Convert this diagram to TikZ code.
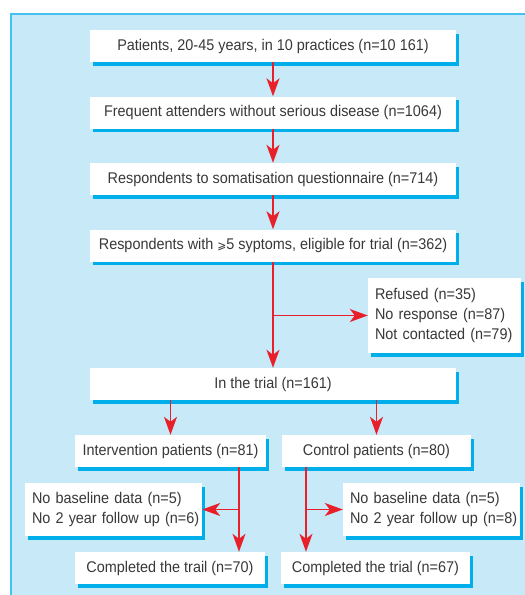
\documentclass[tikz,border=0pt]{standalone}
\usepackage{fontspec}
\setmainfont[FakeStretch=0.93]{Liberation Sans}
\newfontfamily\symfont[FakeStretch=0.93]{DejaVu Sans}
\usetikzlibrary{arrows.meta,shadows}
\definecolor{bgc}{HTML}{C7E9F8}
\definecolor{borderc}{HTML}{45C1F0}
\definecolor{shadowc}{HTML}{00AEEA}
\definecolor{arrc}{HTML}{E8202A}
\definecolor{textc}{HTML}{383838}
\begin{document}
\begin{tikzpicture}[x=1pt,y=-1pt,
  box/.style={fill=white, inner sep=0pt, text=textc,
    font=\fontsize{15.5}{20}\selectfont,
    drop shadow={shadow xshift=3pt, shadow yshift=-3.5pt, fill=shadowc, opacity=1}},
  mainbox/.style={box, minimum width=366pt, minimum height=32pt},
  halfbox/.style={box, minimum width=190pt, minimum height=32pt},
  listbox/.style={box, align=left, inner xsep=7pt, inner ysep=0pt},
  arr/.style={draw=arrc, line width=1.5pt, -{Stealth[length=18pt,width=13pt,inset=5pt]}},
  lin/.style={draw=arrc, line width=1.5pt}]
\useasboundingbox (0,0) rectangle (525,595);
\fill[bgc] (10,13) rectangle (530,600);
\draw[borderc, line width=1.5pt] (10.75,600) -- (10.75,13.75) -- (530,13.75);

\node[mainbox] (b1) at (273,46) {Patients, 20-45 years, in 10 practices (n=10 161)};
\node[mainbox] (b2) at (273,112.5) {Frequent attenders without serious disease (n=1064)};
\node[mainbox] (b3) at (273,179) {Respondents to somatisation questionnaire (n=714)};
\node[mainbox] (b4) at (273,245.5) {Respondents with {\symfont\fontsize{11.5}{20}\selectfont⩾}5 syptoms, eligible for trial (n=362)};
\node[listbox, minimum width=153pt, minimum height=75pt, text width=139pt] (side) at (444.5,315.5) {\mbox{Refused (n=35)}\\\mbox{No response (n=87)}\\\mbox{Not contacted (n=79)}};
\node[mainbox] (b5) at (273,384) {In the trial (n=161)};

\node[halfbox, minimum width=191pt] (iv) at (170.5,451) {Intervention patients (n=81)};
\node[halfbox, minimum width=189pt] (ct) at (376.5,451) {Control patients (n=80)};
\node[listbox, minimum width=177pt, minimum height=53pt, text width=163pt] (nbl) at (113.5,509.5) {\mbox{No baseline data (n=5)}\\\mbox{No 2 year follow up (n=6)}};
\node[listbox, minimum width=177pt, minimum height=53pt, text width=163pt] (nbr) at (431.5,509.5) {\mbox{No baseline data (n=5)}\\\mbox{No 2 year follow up (n=8)}};
\node[halfbox] (cl) at (170,568) {Completed the trail (n=70)};
\node[halfbox, minimum width=189pt] (cr) at (375.5,568) {Completed the trial (n=67)};

\coordinate (ivx) at (239,0);
\coordinate (ctx) at (306,0);

\draw[arr] (b1) -- (b2);
\draw[arr] (b2) -- (b3);
\draw[arr] (b3) -- (b4);
\draw[arr] (b4) -- (b5);
\draw[arr] (b4.south |- side.west) -- (side.west);
\draw[arr] (b5.south -| iv) -- (iv.north);
\draw[arr] (b5.south -| ct) -- (ct.north);
\draw[arr] (iv.south -| ivx) -- (cl.north -| ivx);
\draw[arr] (ivx |- nbl.east) -- (nbl.east);
\draw[arr] (ct.south -| ctx) -- (cr.north -| ctx);
\draw[arr] (ctx |- nbr.west) -- (nbr.west);
\end{tikzpicture}
\end{document}
